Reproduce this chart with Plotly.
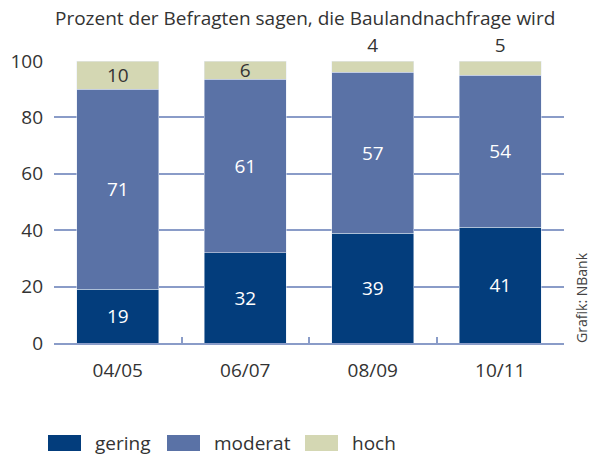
import plotly.graph_objects as go

categories = ["04/05", "06/07", "08/09", "10/11"]
# segment heights as drawn in the picture (06/07 bar reaches 100)
gering = [19, 32, 39, 41]
moderat = [71, 61.5, 57, 54]
hoch = [10, 6.5, 4, 5]
# printed labels
gering_labels = ["19", "32", "39", "41"]
moderat_labels = ["71", "61", "57", "54"]
hoch_labels = ["10", "6", "4", "5"]
hoch_pos = ["inside", "inside", "outside", "outside"]

title_text = "Prozent der Befragten sagen, die Baulandnachfrage wird"
source_text = "Grafik: NBank"

c_gering = "#033d7c"
c_moderat = "#5a72a6"
c_hoch = "#d4d7b3"
grid_c = "#8a9cc8"
txt_c = "#333333"
font_f = "Open Sans, Noto Sans, sans-serif"
fs = 19

fig = go.Figure()
fig.add_trace(go.Bar(x=categories, y=gering, name="gering", marker_color=c_gering,
                     text=gering_labels, textposition="inside", insidetextanchor="middle",
                     textangle=0, textfont=dict(color="white", size=fs, family=font_f),
                     constraintext="none", showlegend=False))
fig.add_trace(go.Bar(x=categories, y=moderat, name="moderat", marker_color=c_moderat,
                     text=moderat_labels, textposition="inside", insidetextanchor="middle",
                     textangle=0, textfont=dict(color="white", size=fs, family=font_f),
                     constraintext="none", showlegend=False))
fig.add_trace(go.Bar(x=categories, y=hoch, name="hoch", marker_color=c_hoch,
                     text=hoch_labels, textposition=hoch_pos, insidetextanchor="middle",
                     textangle=0, textfont=dict(color=txt_c, size=fs, family=font_f),
                     outsidetextfont=dict(color=txt_c, size=fs, family=font_f),
                     constraintext="none", cliponaxis=False, showlegend=False))

fig.update_layout(
    barmode="stack",
    bargap=0.357,
    width=591, height=457,
    margin=dict(l=54, r=27, t=61, b=114, autoexpand=False),
    plot_bgcolor="white", paper_bgcolor="white",
    font=dict(family=font_f, color=txt_c, size=fs),
)
fig.update_yaxes(range=[0, 100], tickvals=[0, 20, 40, 60, 80, 100],
                 showgrid=True, gridcolor=grid_c, gridwidth=1.5,
                 zeroline=False, showline=False, ticks="", automargin=False,
                 ticklabelstandoff=10, tickfont=dict(size=fs, color=txt_c))
fig.update_xaxes(showline=True, linecolor=grid_c, linewidth=1.5, automargin=False,
                 ticks="inside", tickson="boundaries", ticklen=6, tickcolor=grid_c,
                 tickwidth=1.5, ticklabelstandoff=9,
                 tickfont=dict(size=fs, color=txt_c))

fig.add_annotation(text=title_text, xref="paper", yref="paper", x=-0.002, y=1.0,
                   yshift=43, xanchor="left", yanchor="middle", showarrow=False,
                   font=dict(size=19, color=txt_c, family=font_f))
fig.add_annotation(text=source_text, xref="paper", yref="paper", x=1.0, xshift=18,
                   y=0.16, textangle=-90, xanchor="center", yanchor="middle",
                   showarrow=False, font=dict(size=14, color="#444444", family=font_f))

# custom legend
legend_items = [("gering", c_gering), ("moderat", c_moderat), ("hoch", c_hoch)]
lx = [48, 167, 305]
for (name, col), x0 in zip(legend_items, lx):
    fig.add_shape(type="rect", xref="paper", yref="paper",
                  x0=(x0 - 54) / 510, x1=(x0 + 33 - 54) / 510,
                  y0=-(451 - 343) / 282, y1=-(435 - 343) / 282,
                  line=dict(width=0), fillcolor=col)
    fig.add_annotation(text=name, xref="paper", yref="paper",
                       x=(x0 + 45 - 54) / 510, y=-(443 - 343) / 282,
                       xanchor="left", yanchor="middle", showarrow=False,
                       font=dict(size=fs, color=txt_c, family=font_f))

fig.write_html("out.html", config={"displayModeBar": False},
               post_script="document.body.style.margin='0';document.body.style.overflow='hidden';")
